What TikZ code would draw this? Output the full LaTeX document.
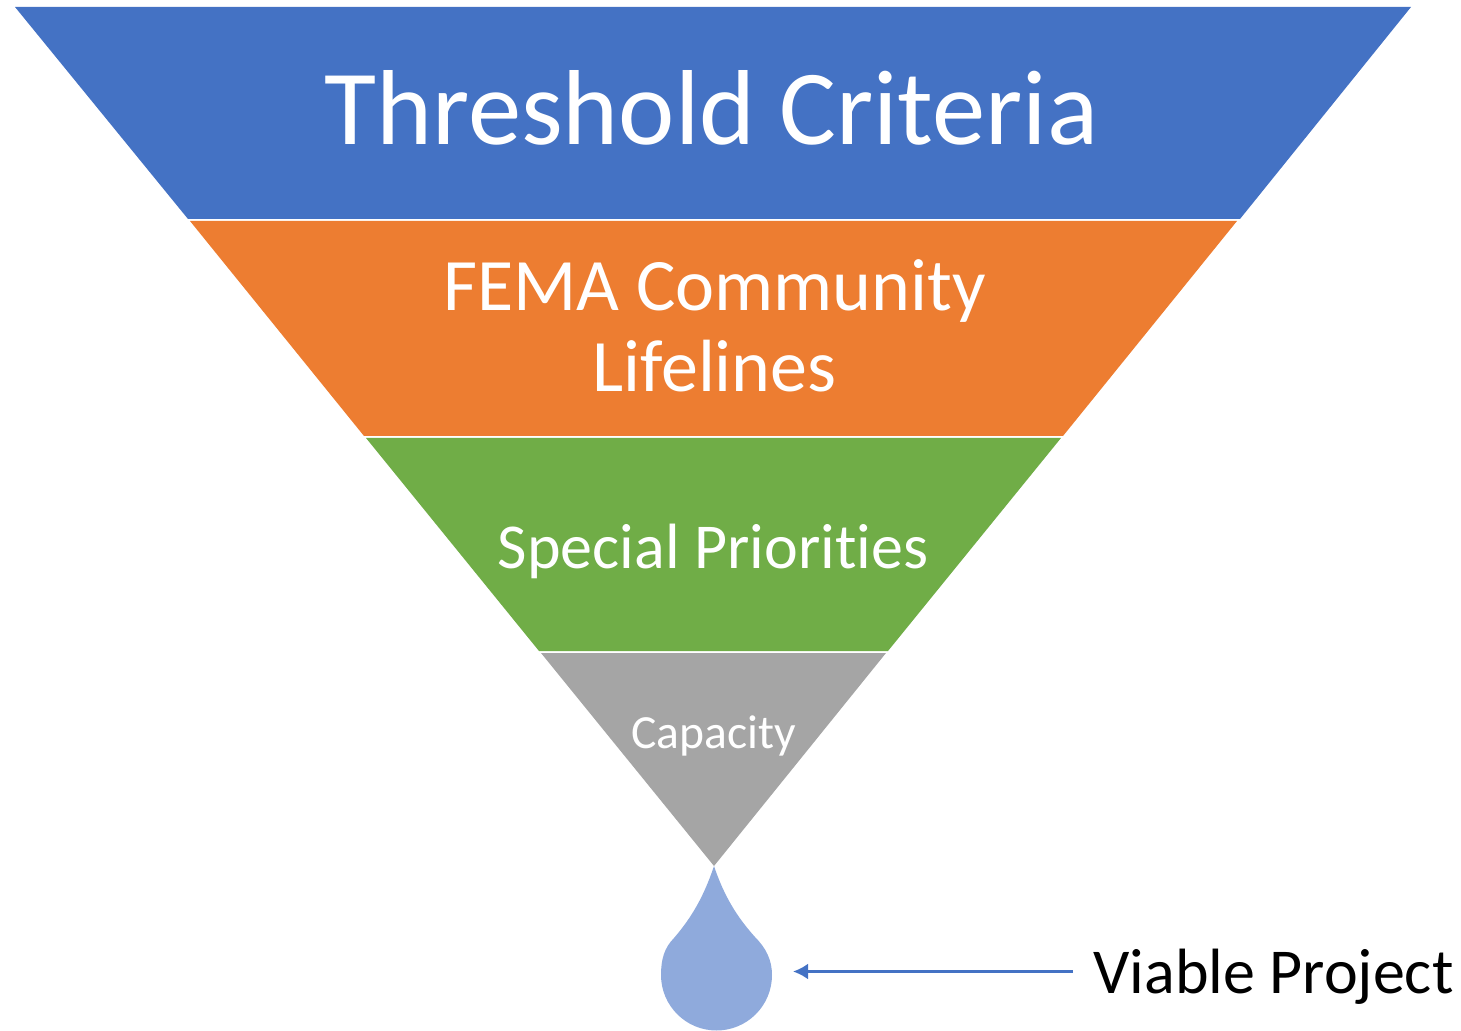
\documentclass[tikz,border=0pt]{standalone}
\usepackage{fontspec}
\setmainfont[Ligatures = NoCommon]{Carlito}
\usetikzlibrary{arrows.meta}
\definecolor{thresholdblue}{HTML}{4472C4}
\definecolor{femaorange}{HTML}{ED7D31}
\definecolor{specialgreen}{HTML}{70AD47}
\definecolor{capacitygray}{HTML}{A5A5A5}
\definecolor{dropblue}{HTML}{8FAADC}
\begin{document}
\begin{tikzpicture}[x = 0.5pt, y = -0.5pt,
    every node/.style = { align = center, inner sep = 0pt, text = white },
    pointer/.style = { draw = thresholdblue, line width = 1.3pt, -{Latex[length = 7.5pt, width = 8pt]} }]
    \useasboundingbox (0,0) rectangle (1461,1031);
    % funnel layers
    \fill [thresholdblue] (15,7) -- (1411,7) -- (1240,219) -- (188,219) -- cycle;
    \fill [femaorange] (190,221) -- (1237,221) -- (1063,436) -- (364,436) -- cycle;
    \fill [specialgreen] (366,438) -- (1061,438) -- (888,651) -- (539,651) -- cycle;
    \fill [capacitygray] (541,653) -- (886,653) -- (714,866) -- cycle;
    % drop
    \fill [dropblue] (714,866) .. controls (724,896) and (737,917) .. (755,937)
      .. controls (766,948) and (772,960) .. (772,975)
      arc [start angle = 0, end angle = -180, x radius = 55.5, y radius = -55.5]
      .. controls (661,960) and (664,948) .. (674,938)
      .. controls (692,917) and (704,896) .. (714,866) -- cycle;
    \coordinate (dropside) at (793,971.5);
    % labels
    \node [font = \fontsize{53.3}{64}\selectfont] (threshold) at (711.5,108) {Threshold Criteria};
    \node [font = \fontsize{37}{40.5}\selectfont] (fema) at (714.5,326) {FEMA Community\\ Lifelines};
    \node [font = \fontsize{32}{38}\selectfont] (special) at (713,551) {Special Priorities};
    \node [font = \fontsize{23.8}{28}\selectfont] (capacity) at (713.5,736) {Capacity};
    \node [text = black, font = \fontsize{32}{38}\selectfont] (viable) at (1273.5,977) {Viable Project};
    \draw [pointer] (1073,971.5) -- (dropside);
\end{tikzpicture}
\end{document}
